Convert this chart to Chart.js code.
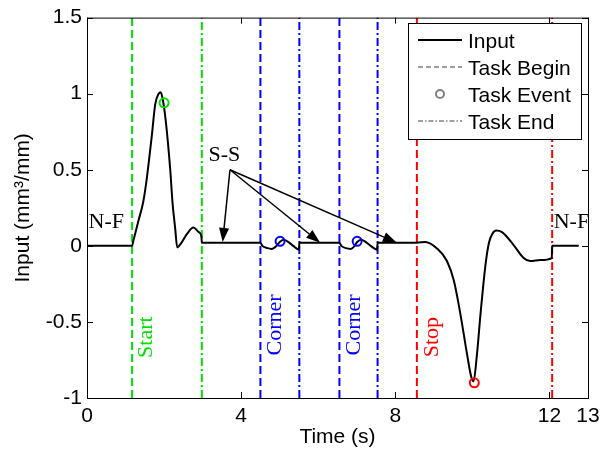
<!DOCTYPE html>
<html>
<head>
<meta charset="utf-8">
<script src="https://cdn.jsdelivr.net/npm/chart.js@4.4.0/dist/chart.umd.min.js"></script>
<style>
  html, body { margin: 0; padding: 0; background: #fff; }
</style>
</head>
<body>
<canvas id="inputChart" width="606" height="456"></canvas>
<script>
// values
var timeValues = [0, 1.17, 1.2, 1.33, 1.46, 1.55, 1.68, 1.77, 1.86, 1.91, 1.96, 2.04, 2.16, 2.22, 2.29, 2.34,
    2.45, 2.6, 2.76, 2.9, 2.97, 2.98,
    4.50, 4.55, 4.68, 4.8, 4.9, 5.0, 5.1, 5.2, 5.35, 5.5, 5.51,
    6.55, 6.6, 6.72, 6.84, 6.93, 7.01, 7.11, 7.21, 7.36, 7.53, 7.54,
    8.56, 8.78, 9.08, 9.34, 9.52, 9.69, 9.86, 9.97, 10.03, 10.12, 10.21, 10.34, 10.43, 10.52, 10.62, 10.77,
    11.07, 11.33, 11.5, 11.77, 12.06, 12.07, 12.76];
var inputValues = [0, 0, 0.03, 0.16, 0.29, 0.44, 0.72, 0.93, 1.0, 1.01, 0.97, 0.83, 0.5, 0.28, 0.11, -0.01,
    0.02, 0.08, 0.12, 0.09, 0.06, 0.02,
    0.02, 0.0, -0.015, -0.02, -0.005, 0.025, 0.04, 0.03, 0.0, -0.025, 0.02,
    0.02, 0.0, -0.015, -0.02, -0.005, 0.025, 0.04, 0.03, 0.0, -0.025, 0.02,
    0.02, 0.026, -0.017, -0.1, -0.23, -0.45, -0.71, -0.86, -0.89, -0.71, -0.45, -0.125, 0.02, 0.08, 0.1, 0.09,
    0.005, -0.08, -0.1, -0.093, -0.08, 0, 0];

var taskBegin = [1.17, 4.50, 6.55, 8.56];
var taskEnd = [2.98, 5.51, 7.54, 12.07];
var taskColors = ['#00e000', '#0000ff', '#0000ff', '#ff0000'];
var taskNames = ['Start', 'Corner', 'Corner', 'Stop'];
var eventTimes = [2.00, 5.01, 7.01, 10.05];
var eventValues = [0.94, 0.03, 0.03, -0.90];

var xTicks = [0, 4, 8, 12, 13];
var yTicks = [-1, -0.5, 0, 0.5, 1, 1.5];

// text annotations (data coordinates)
var taskLabelAt = [[1.53, -0.6], [4.88, -0.52], [6.94, -0.52], [8.95, -0.6]];
var nfLabelAt = [[0.04, 0.117], [12.11, 0.117]];
var ssLabelAt = [3.15, 0.56];
var ssArrowFrom = [3.71, 0.5];
var ssArrowTo = [[3.52, 0.025], [6.05, 0.02], [8.04, 0.02]];

var sansFont = '"Liberation Sans", Arial, sans-serif';
var serifFont = '"Liberation Serif", "Times New Roman", serif';

var datasets = [];

datasets.push({
    label: 'Task Event',
    data: eventTimes.map((t, i) => ({ x: t, y: eventValues[i] })),
    showLine: false,
    pointRadius: 4.5,
    pointBorderWidth: 2,
    pointBorderColor: taskColors,
    pointBackgroundColor: 'rgba(0,0,0,0)'
});

datasets.push({
    label: 'Input',
    data: timeValues.map((t, i) => ({ x: t, y: inputValues[i] })),
    showLine: true,
    borderColor: '#000000',
    borderWidth: 2,
    pointRadius: 0,
    cubicInterpolationMode: 'monotone'
});

taskBegin.forEach(function(t, i) {
    datasets.push({
        label: 'Task Begin',
        data: [{ x: t, y: -1 }, { x: t, y: 1.5 }],
        showLine: true,
        borderColor: taskColors[i],
        borderWidth: 2,
        borderDash: [8, 4],
        pointRadius: 0
    });
});

taskEnd.forEach(function(t, i) {
    datasets.push({
        label: 'Task End',
        data: [{ x: t, y: -1 }, { x: t, y: 1.5 }],
        showLine: true,
        borderColor: taskColors[i],
        borderWidth: 2,
        borderDash: [8, 3, 2, 3],
        pointRadius: 0
    });
});

// frame with inward ticks, like the original figure
var framePlugin = {
    id: 'frame',
    afterDraw: function(chart) {
        var ctx = chart.ctx, a = chart.chartArea;
        var xs = chart.scales.x, ys = chart.scales.y;
        ctx.save();
        ctx.strokeStyle = '#000';
        ctx.lineWidth = 1;
        ctx.strokeRect(a.left + 0.5, a.top + 0.5, a.right - a.left, a.bottom - a.top);
        ctx.beginPath();
        xTicks.forEach(function(v) {
            var px = Math.round(xs.getPixelForValue(v)) + 0.5;
            ctx.moveTo(px, a.bottom); ctx.lineTo(px, a.bottom - 6);
            ctx.moveTo(px, a.top); ctx.lineTo(px, a.top + 6);
        });
        yTicks.forEach(function(v) {
            var py = Math.round(ys.getPixelForValue(v)) + 0.5;
            ctx.moveTo(a.left, py); ctx.lineTo(a.left + 6, py);
            ctx.moveTo(a.right, py); ctx.lineTo(a.right - 6, py);
        });
        ctx.stroke();
        ctx.restore();
    }
};

var annotationPlugin = {
    id: 'notes',
    afterDatasetsDraw: function(chart) {
        var ctx = chart.ctx;
        var xs = chart.scales.x, ys = chart.scales.y;
        function px(p) { return [xs.getPixelForValue(p[0]), ys.getPixelForValue(p[1])]; }
        ctx.save();
        ctx.font = '22px ' + serifFont;

        // rotated task names
        ctx.textAlign = 'center';
        ctx.textBaseline = 'middle';
        taskLabelAt.forEach(function(p, i) {
            var q = px(p);
            ctx.save();
            ctx.translate(q[0], q[1]);
            ctx.rotate(-Math.PI / 2);
            ctx.fillStyle = taskColors[i];
            ctx.fillText(taskNames[i], 0, 0);
            ctx.restore();
        });

        ctx.fillStyle = '#000';
        ctx.textAlign = 'left';
        ctx.textBaseline = 'alphabetic';
        nfLabelAt.forEach(function(p) {
            var q = px(p);
            ctx.fillText('N-F', q[0], q[1]);
        });
        var s = px(ssLabelAt);
        ctx.fillText('S-S', s[0], s[1]);

        // arrows
        var o = px(ssArrowFrom);
        ctx.strokeStyle = '#000';
        ctx.lineWidth = 1.5;
        ssArrowTo.forEach(function(p) {
            var t = px(p);
            var ang = Math.atan2(t[1] - o[1], t[0] - o[0]);
            var len = 14, half = 5;
            var bx = t[0] - len * Math.cos(ang), by = t[1] - len * Math.sin(ang);
            ctx.beginPath();
            ctx.moveTo(o[0], o[1]);
            ctx.lineTo(bx, by);
            ctx.stroke();
            ctx.beginPath();
            ctx.moveTo(t[0], t[1]);
            ctx.lineTo(bx + half * Math.sin(ang), by - half * Math.cos(ang));
            ctx.lineTo(bx - half * Math.sin(ang), by + half * Math.cos(ang));
            ctx.closePath();
            ctx.fill();
        });
        ctx.restore();
    },
    afterDraw: function(chart) {
        // legend box
        var ctx = chart.ctx;
        ctx.save();
        ctx.fillStyle = '#fff';
        ctx.fillRect(408, 23, 173, 116);
        ctx.strokeStyle = '#000';
        ctx.lineWidth = 1;
        ctx.strokeRect(408.5, 23.5, 173, 116);
        var rows = [
            { text: 'Input', color: '#000', dash: [], kind: 'line' },
            { text: 'Task Begin', color: '#808080', dash: [5, 3], kind: 'line' },
            { text: 'Task Event', color: '#808080', dash: [], kind: 'circle' },
            { text: 'Task End', color: '#808080', dash: [5, 2, 1.5, 2], kind: 'line' }
        ];
        ctx.font = '21px ' + sansFont;
        ctx.textBaseline = 'middle';
        rows.forEach(function(r, i) {
            var y = 41 + i * 27;
            ctx.strokeStyle = r.color;
            if (r.kind === 'line') {
                ctx.lineWidth = r.text === 'Input' ? 2 : 1.5;
                ctx.setLineDash(r.dash);
                ctx.beginPath();
                ctx.moveTo(418, y - 1);
                ctx.lineTo(462, y - 1);
                ctx.stroke();
                ctx.setLineDash([]);
            } else {
                ctx.lineWidth = 2;
                ctx.beginPath();
                ctx.arc(440, y - 1, 4, 0, Math.PI * 2);
                ctx.stroke();
            }
            ctx.fillStyle = '#000';
            ctx.fillText(r.text, 468, y + 1);
        });
        ctx.restore();
    }
};

var chart = new Chart(document.getElementById('inputChart'), {
    type: 'scatter',
    data: { datasets: datasets },
    options: {
        responsive: false,
        animation: false,
        devicePixelRatio: 1,
        layout: { padding: { top: 13, right: 18, left: 0, bottom: 0 } },
        plugins: {
            legend: { display: false },
            tooltip: { enabled: false }
        },
        scales: {
            x: {
                type: 'linear',
                min: 0,
                max: 13,
                afterBuildTicks: function(scale) {
                    scale.ticks = xTicks.map(v => ({ value: v }));
                },
                afterFit: function(scale) { scale.height = 58; },
                grid: { display: false, drawTicks: false },
                border: { display: false },
                ticks: {
                    autoSkip: false,
                    maxRotation: 0,
                    padding: 6,
                    color: '#000',
                    font: { family: sansFont, size: 21 },
                    callback: function(value) { return String(value); }
                },
                title: {
                    display: true,
                    text: 'Time (s)',
                    color: '#000',
                    font: { family: sansFont, size: 21 },
                    padding: { top: 0, bottom: 6 }
                }
            },
            y: {
                type: 'linear',
                min: -1,
                max: 1.5,
                afterBuildTicks: function(scale) {
                    scale.ticks = yTicks.map(v => ({ value: v }));
                },
                afterFit: function(scale) { scale.width = 87; },
                grid: { display: false, drawTicks: false },
                border: { display: false },
                ticks: {
                    padding: 5,
                    color: '#000',
                    font: { family: sansFont, size: 21 },
                    callback: function(value) { return String(value); }
                },
                title: {
                    display: true,
                    text: 'Input (mm³/mm)',
                    color: '#000',
                    font: { family: sansFont, size: 21 },
                    padding: { top: 11, bottom: 0 }
                }
            }
        }
    },
    plugins: [framePlugin, annotationPlugin]
});
</script>
</body>
</html>
